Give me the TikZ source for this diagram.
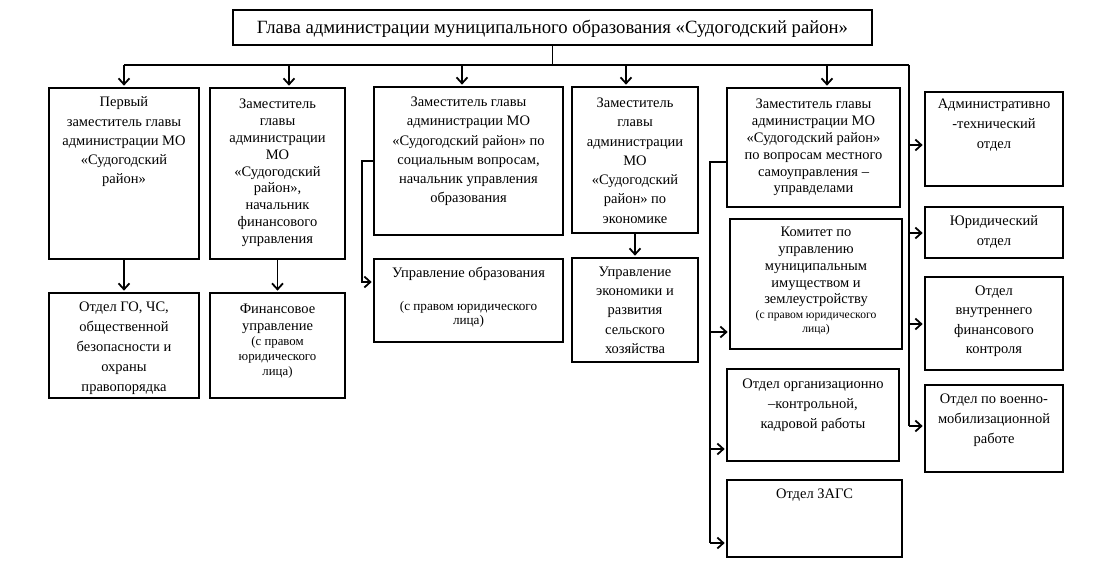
\documentclass[tikz,border=0pt]{standalone}
\usepackage{fontspec}
\setmainfont{Liberation Serif}
\usetikzlibrary{arrows.meta,fit}
\newcommand\ftitle{\fontsize{18.7}{22}\selectfont}
\newcommand\fmain{\fontsize{14.5}{19.3}\selectfont}
\newcommand\fmainb{\fontsize{14.5}{16.9}\selectfont}
\newcommand\fmainc{\fontsize{14.5}{20}\selectfont}
\newcommand\fsmall{\fontsize{12.8}{15}\selectfont}
\newcommand\fsmallb{\fontsize{11.6}{14.5}\selectfont}
\newcommand\fsmallc{\fontsize{13.2}{13.5}\selectfont}
\begin{document}
\begin{tikzpicture}[x=1pt,y=-1pt,
  box/.style={draw, line width=2.7pt, inner sep=0pt},
  txt/.style={anchor=north, align=flush center, inner sep=0pt, font=\fmain},
  conn/.style={line width=1.8pt},
  arr/.style={conn, shorten >=1pt, -{Straight Barb[length=6pt,width=11pt]}}]
\useasboundingbox[fill=white] (0,0) rectangle (1094,587);
% boxes
\node[box, fit={(233,10) (872,45)}] (title) {};
\node[box, fit={(49,88) (199,259)}] (b1) {};
\node[box, fit={(210,88) (345,259)}] (b2) {};
\node[box, fit={(374,87) (563,235)}] (b3) {};
\node[box, fit={(572,87) (698,233)}] (b4) {};
\node[box, fit={(727,88) (900,207)}] (b5) {};
\node[box, fit={(925,92) (1063,186)}] (r1) {};
\node[box, fit={(925,207) (1063,258)}] (r2) {};
\node[box, fit={(925,277) (1063,370)}] (r3) {};
\node[box, fit={(925,385) (1063,472)}] (r4) {};
\node[box, fit={(730,219) (902,349)}] (km) {};
\node[box, fit={(727,369) (899,461)}] (org) {};
\node[box, fit={(727,480) (902,557)}] (zags) {};
\node[box, fit={(374,259) (563,342)}] (uo) {};
\node[box, fit={(572,258) (698,362)}] (ue) {};
\node[box, fit={(49,293) (199,398)}] (go) {};
\node[box, fit={(210,293) (345,398)}] (fin) {};
% texts
\node[font=\ftitle, inner sep=0pt] (titlet) at ([yshift=-1.5pt]title.center) {Глава администрации муниципального образования «Судогодский район»};
\node[txt, text width=145pt] (b1t) at ([yshift=-10pt]b1.north) {Первый\\заместитель главы\\администрации МО\\«Судогодский\\район»};
\node[txt, text width=132pt, font=\fmainb] (b2t) at ([yshift=-12pt]b2.north) {Заместитель\\главы\\администрации\\МО\\«Судогодский\\район»,\\начальник\\финансового\\управления};
\node[txt, text width=185pt] (b3t) at ([yshift=-11pt]b3.north) {Заместитель главы\\администрации МО\\«Судогодский район» по\\социальным вопросам,\\начальник управления\\образования};
\node[txt, text width=124pt] (b4t) at ([yshift=-12pt]b4.north) {Заместитель\\главы\\администрации\\МО\\«Судогодский\\район» по\\экономике};
\node[txt, text width=170pt, font=\fmainb] (b5t) at ([yshift=-12pt]b5.north) {Заместитель главы\\администрации МО\\«Судогодский район»\\по вопросам местного\\самоуправления –\\управделами};
\node[txt, text width=135pt, font=\fmainc] (r1t) at ([yshift=-8pt]r1.north) {Административно\\-технический\\отдел};
\node[txt, text width=135pt, font=\fmainc] (r2t) at ([yshift=-10pt]r2.north) {Юридический\\отдел};
\node[txt, text width=135pt] (r3t) at ([yshift=-10pt]r3.north) {Отдел\\внутреннего\\финансового\\контроля};
\node[txt, text width=135pt, font=\fmainc] (r4t) at ([yshift=-10pt]r4.north) {Отдел по военно-\\мобилизационной\\работе};
\node[txt, text width=170pt, font=\fmainb] (kmt) at ([yshift=-9pt]km.north) {Комитет по\\управлению\\муниципальным\\имуществом и\\землеустройству\par\fsmallb(с правом юридического\\лица)\par};
\node[txt, text width=170pt, font=\fmainc] (orgt) at ([yshift=-11pt]org.north) {Отдел организационно\\–контрольной,\\кадровой работы};
\node[txt, text width=170pt] (zagst) at ([yshift=-10pt]zags.north) {Отдел ЗАГС};
\node[txt, text width=185pt] (uot) at ([yshift=-9pt]uo.north) {Управление образования\par\vspace{20pt}\fsmallc(с правом юридического\\лица)\par};
\node[txt, text width=124pt] (uet) at ([yshift=-10pt]ue.north) {Управление\\экономики и\\развития\\сельского\\хозяйства};
\node[txt, text width=145pt, font=\fmainc] (got) at ([yshift=-10pt]go.north) {Отдел ГО, ЧС,\\общественной\\безопасности и\\охраны\\правопорядка};
\node[txt, text width=130pt, font=\fmainb] (fint) at ([yshift=-12pt]fin.north) {Финансовое\\управление\par\fsmall(с правом\\юридического\\лица)\par};
% connectors
\coordinate (rt) at (909,65);
\draw[conn] (title.south) -- (title.south |- rt);
\draw[conn] (b1.north |- rt) -- (rt);
\draw[arr] (b1.north |- rt) -- (b1.north);
\draw[arr] ([xshift=11.5pt]b2.north |- rt) -- ([xshift=11.5pt]b2.north);
\draw[arr] ([xshift=-6.5pt]b3.north |- rt) -- ([xshift=-6.5pt]b3.north);
\draw[arr] ([xshift=-9pt]b4.north |- rt) -- ([xshift=-9pt]b4.north);
\draw[arr] ([xshift=13.5pt]b5.north |- rt) -- ([xshift=13.5pt]b5.north);
% right trunk
\coordinate (ra) at (909,145);
\coordinate (rb) at (909,233);
\coordinate (rc) at (909,324);
\coordinate (rd) at (909,426);
\draw[conn] (rt) -- (rd);
\draw[arr] (ra) -- (r1.west |- ra);
\draw[arr] (rb) -- (r2.west |- rb);
\draw[arr] (rc) -- (r3.west |- rc);
\draw[arr] (rd) -- (r4.west |- rd);
% down arrows
\draw[arr] (b1.south) -- (go.north);
\draw[arr] (b2.south) -- (fin.north);
\draw[arr] (b4.south) -- (ue.north);
% B3 loop
\coordinate (l3) at (362,161);
\coordinate (l3b) at (362,282);
\draw[arr] (b3.west |- l3) -- (l3) -- (l3b) -- (uo.west |- l3b);
% B5 loop
\coordinate (l5) at (710,162);
\coordinate (l5k) at (710,332);
\coordinate (l5o) at (710,449);
\coordinate (l5z) at (710,543);
\draw[conn] (b5.west |- l5) -- (l5) -- (l5z);
\draw[arr] (l5k) -- (km.west |- l5k);
\draw[arr] (l5o) -- (org.west |- l5o);
\draw[arr] (l5z) -- (zags.west |- l5z);
\end{tikzpicture}
\end{document}
